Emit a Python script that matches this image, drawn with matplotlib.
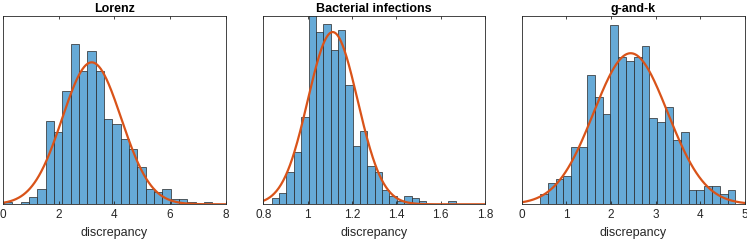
import numpy as np
import matplotlib
matplotlib.use("Agg")
import matplotlib.pyplot as plt

plt.rcParams['font.family'] = ['Liberation Sans', 'DejaVu Sans']

# histogram counts, 25 bins between lo and hi (as in the figure)
titles = ["Lorenz", "Bacterial infections", "g-and-k"]

lorenz_counts = [1, 0, 1, 3, 6, 33, 29, 45, 64, 53, 61, 53, 34, 32, 26, 22, 15, 6, 5, 6, 2, 2, 1, 0, 1]
bact_counts = [2, 4, 11, 18, 30, 75, 59, 62, 53, 60, 41, 20, 25, 13, 11, 5, 3, 1, 3, 2, 1, 0, 0, 0, 1]
gk_counts = [3, 6, 7, 8, 16, 16, 36, 30, 25, 50, 41, 40, 41, 44, 24, 23, 27, 18, 20, 4, 4, 5, 5, 3, 4]

bin_lo = [0.02, 0.838, 0.41]
bin_hi = [7.52, 1.668, 4.785]

# fitted normal (mean, std)
fit_mu = [3.18, 1.113, 2.44]
fit_sigma = [1.06, 0.112, 0.83]

x_lims = [(0, 8), (0.8, 1.8), (0, 5)]
y_tops = [0.5, 3.9, 0.6]
x_ticks = [[0, 2, 4, 6, 8], [0.8, 1, 1.2, 1.4, 1.6, 1.8], [0, 1, 2, 3, 4, 5]]
x_ticklabels = [["0", "2", "4", "6", "8"],
                ["0.8", "1", "1.2", "1.4", "1.6", "1.8"],
                ["0", "1", "2", "3", "4", "5"]]

all_counts = [lorenz_counts, bact_counts, gk_counts]

fig = plt.figure(figsize=(7.47, 2.41), dpi=100)
lefts = [3.3, 263.3, 521.7]
widths = [222.4, 221.7, 223.3]

bar_col = (0.4, 0.668, 0.845)
line_col = '#D95319'
ax_col = '#262626'

for i in range(3):
    ax = fig.add_axes([lefts[i] / 747, 36.7 / 241, widths[i] / 747, 188.6 / 241])
    counts = np.array(all_counts[i], dtype=float)
    edges = np.linspace(bin_lo[i], bin_hi[i], len(counts) + 1)
    centers = (edges[:-1] + edges[1:]) / 2
    ax.hist(centers, bins=edges, weights=counts, density=True,
            color=bar_col, edgecolor=ax_col, linewidth=0.5)
    xs = np.linspace(x_lims[i][0], x_lims[i][1], 400)
    pdf = np.exp(-(xs - fit_mu[i]) ** 2 / (2 * fit_sigma[i] ** 2)) / (fit_sigma[i] * np.sqrt(2 * np.pi))
    ax.plot(xs, pdf, color=line_col, linewidth=1.6)
    ax.set_xlim(x_lims[i])
    ax.set_ylim(0, y_tops[i])
    ax.set_yticks([])
    ax.set_xticks(x_ticks[i])
    ax.set_xticklabels(x_ticklabels[i])
    ax.tick_params(axis='x', direction='in', length=2, width=0.6, color=ax_col,
                   top=True, labelsize=8.5, pad=3.5, labelcolor=ax_col)
    for s in ax.spines.values():
        s.set_color(ax_col)
        s.set_linewidth(0.6)
    ax.set_xlabel("discrepancy", fontsize=9, color=ax_col, labelpad=4)
    ax.set_title(titles[i], fontsize=9, fontweight='bold', pad=3)

fig.savefig("out.png", dpi=100)
